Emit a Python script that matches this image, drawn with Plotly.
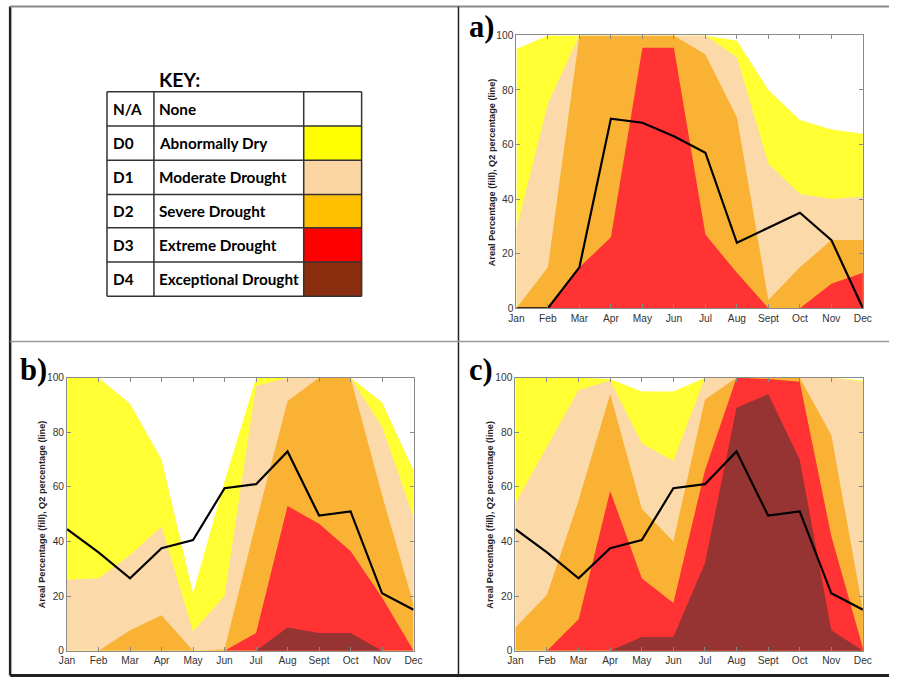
import plotly.graph_objects as go

W, H = 898, 683
# the captured page includes the default 8px body margin and is scaled back to 898x683;
# these factors map a target pixel position in the picture to figure pixels
SX, SY, OFF = (W + 16) / W, (H + 16) / H, 8
FS = 1.02  # font compensation for the slight downscale

months = ["Jan", "Feb", "Mar", "Apr", "May", "Jun", "Jul", "Aug", "Sept", "Oct", "Nov", "Dec"]

# cumulative areal percentage (D0+ ... D4+) for each panel
a_D0 = [95, 100, 100, 100, 100, 100, 100, 98, 80, 69, 65.5, 64]
a_D1 = [29, 75, 100, 100, 100, 100, 100, 92, 53, 42, 40, 41]
a_D2 = [0, 15, 100, 100, 100, 100, 93, 70, 3, 15, 25, 25]
a_D3 = [0, 0, 15, 26, 95.5, 95.5, 27, 13, 0, 0, 9, 13]
a_D4 = [0, 0, 0, 0, 0, 0, 0, 0, 0, 0, 0, 0]
a_Q2 = [0, 0, 15, 69.5, 68, 63, 57, 24, 29.5, 35, 25, 0]

b_D0 = [100, 100, 90.5, 70, 21, 62, 100, 100, 100, 100, 91, 66]
b_D1 = [26, 26.5, 35, 45.5, 7, 20, 97, 100, 100, 100, 82, 49]
b_D2 = [0, 0, 7.5, 13, 0, 0.5, 47, 91.5, 100, 100, 57, 17]
b_D3 = [0, 0, 0, 0, 0, 0, 6.5, 53, 46.5, 36.5, 19.5, 0]
b_D4 = [0, 0, 0, 0, 0, 0, 0, 8.5, 6.5, 6.5, 0, 0]
b_Q2 = [44.5, 36, 26.5, 37.5, 40.5, 59.5, 61, 73, 49.5, 51, 21, 15]

c_D0 = [100, 100, 100, 99.5, 95, 95, 100, 100, 100, 100, 100, 99]
c_D1 = [54, 75, 95.5, 99, 76, 69.5, 100, 100, 100, 100, 100, 98.5]
c_D2 = [8.5, 20.5, 55, 94, 52, 40, 92, 100, 100, 100, 79, 15]
c_D3 = [0, 0, 11.5, 58.5, 26.5, 17.5, 66, 100, 99.5, 98.5, 42, 1]
c_D4 = [0, 0, 0, 0, 5, 5, 32, 89, 94, 70, 7.5, 0]
c_Q2 = [44.5, 36, 26.5, 37.5, 40.5, 59.5, 61, 73, 49.5, 51, 21, 15]

fill_colors = ["#FFFF33", "#FCD9A8", "#F9B233", "#FF3333", "#963333"]
key_codes = ["N/A", "D0", "D1", "D2", "D3", "D4"]
key_names = ["None", "Abnormally Dry", "Moderate Drought", "Severe Drought",
             "Extreme Drought", "Exceptional Drought"]
key_colors = ["#FFFFFF", "#FFFF00", "#FCD5A5", "#FFC000", "#FF0000", "#8B2E10"]
y_ticks = [0, 20, 40, 60, 80, 100]
y_title = "Areal Percentage (fill), Q2 percentage (line)"

panels = [
    ("a)", [a_D0, a_D1, a_D2, a_D3, a_D4], a_Q2, (517, 864, 38, 309)),
    ("b)", [b_D0, b_D1, b_D2, b_D3, b_D4], b_Q2, (67, 414, 378, 649)),
    ("c)", [c_D0, c_D1, c_D2, c_D3, c_D4], c_Q2, (516, 864, 378, 649)),
]

def px(x):
    return (x * SX - OFF) / W

def py(y):
    return 1 - (y * SY - OFF) / H

def clamp(v):
    return min(max(v, 0.0), 1.0)

fig = go.Figure()
annotations = []
shapes = []

for i, (label, layers, q2, (x0, x1, y0, y1)) in enumerate(panels):
    n = "" if i == 0 else str(i + 1)
    xa, ya = "x" + n, "y" + n
    for layer, col in zip(layers, fill_colors):
        fig.add_trace(go.Scatter(x=months, y=layer, mode="lines", fill="tozeroy",
                                 fillcolor=col, line=dict(width=0, color=col),
                                 xaxis=xa, yaxis=ya, showlegend=False, hoverinfo="skip"))
    fig.add_trace(go.Scatter(x=months, y=q2, mode="lines", line=dict(color="black", width=2.2),
                             xaxis=xa, yaxis=ya, showlegend=False))
    axis_common = dict(showline=True, linecolor="#8a8a8a", linewidth=1, mirror="ticks",
                       ticks="inside", ticklen=4, tickcolor="#8a8a8a", showgrid=False,
                       zeroline=False,
                       tickfont=dict(family="Liberation Sans", size=10 * FS, color="#333"))
    fig.update_layout(**{
        "xaxis" + n: dict(domain=[px(x0), px(x1)], range=[0, 11], anchor=ya,
                          type="category", categoryorder="array", categoryarray=months,
                          **axis_common),
        "yaxis" + n: dict(domain=[py(y1), py(y0)], range=[0, 100], anchor=xa,
                          tickvals=y_ticks, **axis_common),
    })
    annotations.append(dict(x=px(x0 - 25), y=py((y0 + y1) / 2), xref="paper", yref="paper",
                            xanchor="center", yanchor="middle",
                            text="<b>" + y_title + "</b>", textangle=-90, showarrow=False,
                            font=dict(family="Liberation Sans", size=9 * FS, color="#222")))
    annotations.append(dict(x=px(x0 - 34), y=py(y0 - 8), xref="paper", yref="paper",
                            xanchor="center", yanchor="middle",
                            text="<b>" + label + "</b>", showarrow=False,
                            font=dict(family="Liberation Serif", size=30 * FS, color="black")))

# key table
rows = [94, 128, 162, 196, 229, 263, 297]
cols = [107, 154, 304, 362]
for r in range(6):
    ya0, ya1 = rows[r], rows[r + 1]
    shapes.append(dict(type="rect", xref="paper", yref="paper",
                       x0=px(cols[2]), x1=px(cols[3]), y0=py(ya1), y1=py(ya0),
                       fillcolor=key_colors[r], line=dict(width=0), layer="above"))
    annotations.append(dict(x=px(cols[0] + 4), y=py((ya0 + ya1) / 2), xref="paper", yref="paper",
                            xanchor="left", yanchor="middle",
                            text="<b>" + key_codes[r] + "</b>", showarrow=False,
                            font=dict(family="Lato", size=15 * FS, color="black")))
    annotations.append(dict(x=px(cols[1] + 3), y=py((ya0 + ya1) / 2), xref="paper", yref="paper",
                            xanchor="left", yanchor="middle",
                            text="<b>" + key_names[r] + "</b>", showarrow=False,
                            font=dict(family="Lato", size=15 * FS, color="black")))
for yy in rows:
    shapes.append(dict(type="line", xref="paper", yref="paper", x0=px(cols[0]), x1=px(cols[3]),
                       y0=py(yy), y1=py(yy), line=dict(color="#333", width=1.5), layer="above"))
for xx in cols:
    shapes.append(dict(type="line", xref="paper", yref="paper", x0=px(xx), x1=px(xx),
                       y0=py(rows[0]), y1=py(rows[-1]), line=dict(color="#333", width=1.5), layer="above"))
annotations.append(dict(x=px(157), y=py(82), xref="paper", yref="paper",
                        xanchor="left", yanchor="middle",
                        text="<b>KEY:</b>", showarrow=False,
                        font=dict(family="Lato", size=19 * FS, color="black")))

# panel frame (clamped to the drawable figure area)
top_y, bot_y = 1.5 / H, 1 - 1.5 / H
frame = [
    (px(10), top_y, 1.0, top_y, "#222", 3),
    (px(10), top_y, px(10), bot_y, "#222", 2.5),
    (px(10), bot_y, 1.0, bot_y, "#888", 2),
    (px(459), top_y, px(459), bot_y, "#222", 1.5),
    (px(10), py(342), 1.0, py(342), "#999", 1.5),
]
for (fx0, fy0, fx1, fy1, c, w) in frame:
    shapes.append(dict(type="line", xref="paper", yref="paper", x0=clamp(fx0), y0=clamp(fy0),
                       x1=clamp(fx1), y1=clamp(fy1), line=dict(color=c, width=w), layer="above"))

fig.update_layout(width=W, height=H, margin=dict(l=0, r=0, t=0, b=0),
                  paper_bgcolor="white", plot_bgcolor="white",
                  annotations=annotations, shapes=shapes, showlegend=False)

fig.write_html("out.html")
